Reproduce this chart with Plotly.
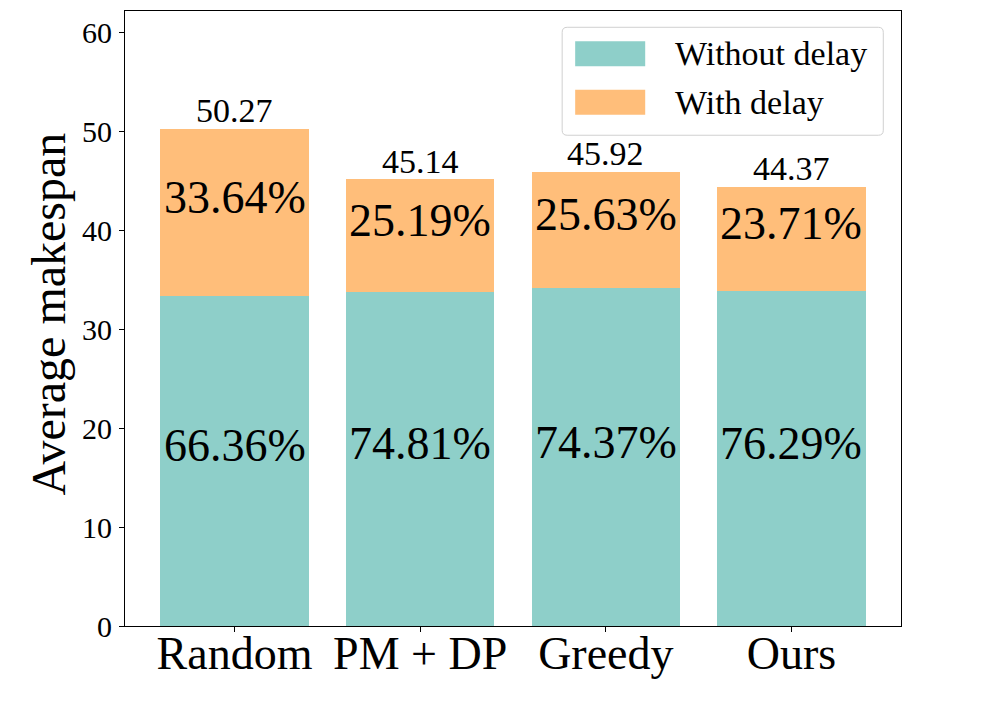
import plotly.graph_objects as go

categories = ["Random", "PM + DP", "Greedy", "Ours"]
without_delay = [33.36, 33.77, 34.15, 33.85]
with_delay = [16.91, 11.37, 11.77, 10.52]
totals = [50.27, 45.14, 45.92, 44.37]
pct_without = ["66.36%", "74.81%", "74.37%", "76.29%"]
pct_with = ["33.64%", "25.19%", "25.63%", "23.71%"]
y_ticks = [0, 10, 20, 30, 40, 50, 60]

TEAL = "#8ECFC9"
ORANGE = "#FFBE7A"
FONT = "Liberation Serif, Times New Roman, serif"

OFF = 8  # page body margin
W, H = 1000 - OFF, 714 - OFF
# plot area in screen pixels
SL, SR, ST, SB = 125, 900.7, 10.7, 626
L, R, T, B = SL - OFF, SR - OFF, ST - OFF, SB - OFF

def px(xs):
    return (xs - SL) / (SR - SL)

def py(ys):
    return (SB - ys) / (SB - ST)

fig = go.Figure()
fig.add_trace(go.Bar(x=categories, y=without_delay, name="Without delay",
                     marker=dict(color=TEAL, line=dict(width=0)), width=0.8))
fig.add_trace(go.Bar(x=categories, y=with_delay, name="With delay",
                     marker=dict(color=ORANGE, line=dict(width=0)), width=0.8))

ann = []
for i, c in enumerate(categories):
    ann.append(dict(x=c, y=without_delay[i] / 2, text=pct_without[i], showarrow=False,
                    xanchor="center", yanchor="middle", yshift=15,
                    font=dict(family=FONT, size=46, color="black")))
    ann.append(dict(x=c, y=without_delay[i] + with_delay[i] / 2, text=pct_with[i], showarrow=False,
                    xanchor="center", yanchor="middle", yshift=15,
                    font=dict(family=FONT, size=46, color="black")))
    ann.append(dict(x=c, y=totals[i], text=f"{totals[i]:.2f}", showarrow=False,
                    xanchor="center", yanchor="middle", yshift=18,
                    font=dict(family=FONT, size=34, color="black")))

# y-axis title
ann.append(dict(xref="paper", yref="paper", x=px(48.5), y=py(314), text="Average makespan",
                textangle=-90, showarrow=False, xanchor="center", yanchor="middle",
                font=dict(family=FONT, size=48, color="black")))

# custom legend
legend_items = [("Without delay", TEAL, 53.5), ("With delay", ORANGE, 102)]
shapes = []
x0, x1, y0, y1, r = 562, 883, 27, 135, 5
rx = r / (SR - SL)
ry = r / (SB - ST)
path = (f"M {px(x0)+rx},{py(y0)} L {px(x1)-rx},{py(y0)} Q {px(x1)},{py(y0)} {px(x1)},{py(y0)-ry} "
        f"L {px(x1)},{py(y1)+ry} Q {px(x1)},{py(y1)} {px(x1)-rx},{py(y1)} "
        f"L {px(x0)+rx},{py(y1)} Q {px(x0)},{py(y1)} {px(x0)},{py(y1)+ry} "
        f"L {px(x0)},{py(y0)-ry} Q {px(x0)},{py(y0)} {px(x0)+rx},{py(y0)} Z")
shapes.append(dict(type="path", xref="paper", yref="paper", path=path,
                   fillcolor="rgba(255,255,255,0.8)", line=dict(color="#d0d0d0", width=1)))
for name, col, yc in legend_items:
    shapes.append(dict(type="rect", xref="paper", yref="paper",
                       x0=px(575), x1=px(645), y0=py(yc - 12.5), y1=py(yc + 12.5),
                       fillcolor=col, line=dict(width=0)))
    ann.append(dict(xref="paper", yref="paper", x=px(673), y=py(yc), text=name, showarrow=False,
                    xanchor="left", yanchor="middle",
                    font=dict(family=FONT, size=34, color="black")))

fig.update_layout(
    width=W, height=H,
    barmode="stack",
    showlegend=False,
    plot_bgcolor="white", paper_bgcolor="white",
    margin=dict(l=L, r=W - R, t=T, b=H - B, pad=0),
    font=dict(family=FONT, color="black"),
    annotations=ann,
    shapes=shapes,
    bargap=0.2,
)
fig.update_xaxes(range=[-0.59, 3.59], showline=True, linecolor="black", linewidth=1.1, mirror=True,
                 ticks="outside", ticklen=5, tickwidth=1.1, tickcolor="black",
                 tickfont=dict(family=FONT, size=46, color="black"), showgrid=False,
                 ticklabelstandoff=-18)
fig.update_yaxes(range=[0, 62.15], tickvals=y_ticks, showline=True, linecolor="black", linewidth=1.1,
                 mirror=True, ticks="outside", ticklen=5, tickwidth=1.1, tickcolor="black",
                 tickfont=dict(family=FONT, size=30, color="black"), showgrid=False, zeroline=False,
                 ticklabelstandoff=1)

fig.write_html("out.html")
